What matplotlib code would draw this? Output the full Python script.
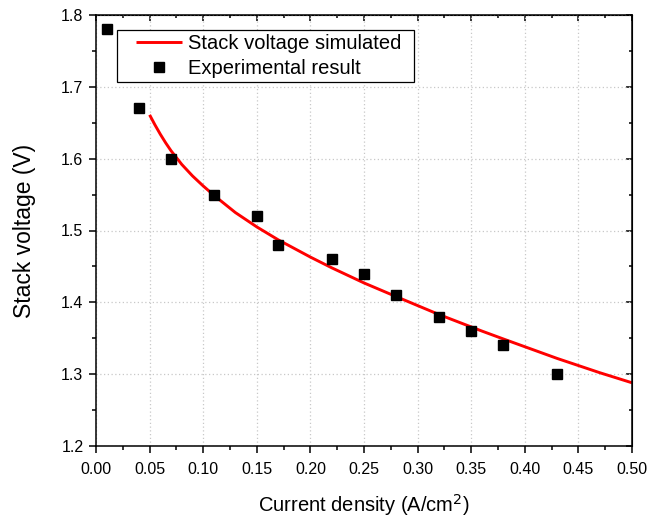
import matplotlib
matplotlib.use("Agg")
import matplotlib.pyplot as plt
from matplotlib.patches import Rectangle
from matplotlib.ticker import MultipleLocator, FormatStrFormatter

plt.rcParams['font.family'] = ['Liberation Sans', 'DejaVu Sans']

# experimental points
exp_current = [0.01, 0.04, 0.07, 0.11, 0.15, 0.17, 0.22, 0.25, 0.28, 0.32, 0.35, 0.38, 0.43]
exp_voltage = [1.78, 1.67, 1.60, 1.55, 1.52, 1.48, 1.46, 1.44, 1.41, 1.38, 1.36, 1.34, 1.30]

# simulated curve
sim_current = [0.05, 0.055, 0.06, 0.065, 0.07, 0.08, 0.09, 0.10, 0.11, 0.13, 0.15,
               0.17, 0.20, 0.22, 0.25, 0.28, 0.32, 0.36, 0.38, 0.43, 0.47, 0.50]
sim_voltage = [1.661, 1.647, 1.634, 1.622, 1.611, 1.592, 1.576, 1.562, 1.549, 1.525, 1.505,
               1.487, 1.463, 1.448, 1.427, 1.408, 1.383, 1.360, 1.349, 1.322, 1.302, 1.288]

fig = plt.figure(figsize=(6.48, 5.18), dpi=100)
ax = fig.add_axes([96/648, 72/518, 536/648, 431/518])

ax.plot(sim_current, sim_voltage, color='red', lw=2.1, label='Stack voltage simulated',
        solid_capstyle='butt', solid_joinstyle='round')
ax.plot(exp_current, exp_voltage, ls='none', marker='s', ms=7, color='black',
        label='Experimental result')

ax.set_xlim(0, 0.5)
ax.set_ylim(1.2, 1.8)
ax.xaxis.set_major_locator(MultipleLocator(0.05))
ax.xaxis.set_minor_locator(MultipleLocator(0.025))
ax.yaxis.set_major_locator(MultipleLocator(0.1))
ax.yaxis.set_minor_locator(MultipleLocator(0.05))
ax.xaxis.set_major_formatter(FormatStrFormatter('%.2f'))
ax.yaxis.set_major_formatter(FormatStrFormatter('%.1f'))

ax.set_axisbelow(True)
ax.grid(which='major', ls=(0, (1, 2)), color='#c8c8c8', lw=0.9)
for s in ax.spines.values():
    s.set_linewidth(1.1)
ax.tick_params(which='major', direction='out', length=5, width=1.1, labelsize=11.5)
ax.tick_params(which='minor', direction='out', length=3, width=1.1)
ax.tick_params(axis='x', which='major', pad=6.5)
ax.tick_params(axis='y', which='major', pad=4)

# inward ticks on top and right, no labels
secx = ax.secondary_xaxis('top')
secx.xaxis.set_major_locator(MultipleLocator(0.05))
secx.xaxis.set_minor_locator(MultipleLocator(0.025))
secx.tick_params(which='both', direction='in', labeltop=False, width=1.1)
secx.tick_params(which='major', length=4)
secx.tick_params(which='minor', length=2.5)
secy = ax.secondary_yaxis('right')
secy.yaxis.set_major_locator(MultipleLocator(0.1))
secy.yaxis.set_minor_locator(MultipleLocator(0.05))
secy.tick_params(which='both', direction='in', labelright=False, width=1.1)
secy.tick_params(which='major', length=4)
secy.tick_params(which='minor', length=2.5)

ax.set_xlabel('Current density (A/cm$^2$)', fontsize=14.5, labelpad=11)
ax.set_ylabel('Stack voltage (V)', fontsize=16.5, labelpad=18)

leg = ax.legend(loc='upper left', bbox_to_anchor=(136/648, 1 - 34/518),
                bbox_transform=fig.transFigure, frameon=False, fontsize=14.5,
                borderpad=0, borderaxespad=0, handlelength=2.3, handletextpad=0.3,
                labelspacing=0.3)
leg.set_zorder(6)

fig.canvas.draw()
bb = leg.get_window_extent()
x0, x1 = 117, bb.x1 + 12
y_top, y_bot = 518 - 30, 518 - 82
box = Rectangle((x0/648, y_bot/518), (x1 - x0)/648, (y_top - y_bot)/518,
                transform=fig.transFigure, facecolor='white', edgecolor='black',
                lw=0.9, zorder=5, clip_on=False)
ax.add_patch(box)

fig.savefig('out.png', dpi=100)
